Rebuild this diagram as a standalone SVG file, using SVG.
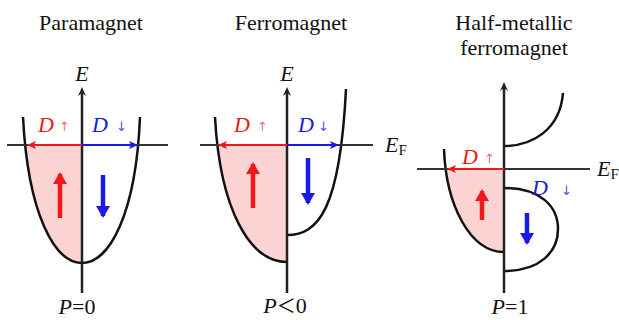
<svg xmlns="http://www.w3.org/2000/svg" width="619" height="320" viewBox="0 0 619 320">
<style>
.title{font-family:"Liberation Serif",serif;font-size:22px;fill:#111;text-anchor:middle}
.lab{font-family:"Liberation Serif",serif;font-size:22px;font-style:italic}
.sm{font-family:"DejaVu Sans",sans-serif;font-size:13px}
.axis{stroke:#222;stroke-width:2.5;fill:none}
.curve{stroke:#111;stroke-width:2.5;fill:none}
.ef{stroke:#333;stroke-width:2;fill:none}
.fill{fill:#fbd3d3}
</style>
<defs>
<marker id="axhead" markerWidth="10" markerHeight="10" refX="5" refY="5" orient="auto" markerUnits="userSpaceOnUse"><path d="M0,1 L9,5 L0,9 L3,5 Z" fill="#222"/></marker>
<marker id="rh" markerWidth="10" markerHeight="10" refX="8" refY="5" orient="auto" markerUnits="userSpaceOnUse"><path d="M0,1 L9,5 L0,9 L2,5 Z" fill="#f01818"/></marker>
<marker id="bh" markerWidth="10" markerHeight="10" refX="8" refY="5" orient="auto" markerUnits="userSpaceOnUse"><path d="M0,1 L9,5 L0,9 L2,5 Z" fill="#1a1ae6"/></marker>
<marker id="rbig" markerWidth="14" markerHeight="14" refX="10" refY="7" orient="auto" markerUnits="userSpaceOnUse"><path d="M0,0 L12,7 L0,14 Z" fill="#f01818"/></marker>
<marker id="bbig" markerWidth="14" markerHeight="14" refX="10" refY="7" orient="auto" markerUnits="userSpaceOnUse"><path d="M0,0 L12,7 L0,14 Z" fill="#1a1ae6"/></marker>
<clipPath id="c1"><path d="M23,117 C28,215 55,263 82,263 C109,263 136,215 140,117 Z"/></clipPath>
<clipPath id="c2"><path d="M215,117 C220,210 250,262 287,262 L287,117 Z"/></clipPath>
<clipPath id="c3"><path d="M444,149 C446,205 470,252 504,252 L504,149 Z"/></clipPath>
</defs>

<g id="paramagnet">
<text class="title" x="91" y="30">Paramagnet</text>
<rect class="fill" x="0" y="145" width="82" height="125" clip-path="url(#c1)"/>
<path class="curve" d="M23,117 C28,215 55,263 82,263 C109,263 136,215 140,117"/>
<text class="lab" x="82" y="81" text-anchor="middle" fill="#111">E</text>
<text class="lab" x="38" y="132" fill="#f01818">D</text>
<text class="sm" x="59" y="131" fill="#f07070">↑</text>
<text class="lab" x="92" y="132" fill="#1a1ae6">D</text>
<text class="sm" x="116" y="131" fill="#5050e0">↓</text>
<text class="lab" x="77" y="314" text-anchor="middle" fill="#111">P<tspan font-style="normal">=0</tspan></text>
</g>

<g id="ferromagnet">
<text class="title" x="291" y="30">Ferromagnet</text>
<rect class="fill" x="200" y="145" width="87" height="125" clip-path="url(#c2)"/>
<path class="curve" d="M215,117 C220,210 250,262 287,262"/>
<path class="curve" d="M287,235 C318,235 340,210 346,89"/>
<text class="lab" x="287" y="81" text-anchor="middle" fill="#111">E</text>
<text class="lab" x="234" y="132" fill="#f01818">D</text>
<text class="sm" x="257" y="131" fill="#f07070">↑</text>
<text class="lab" x="298" y="132" fill="#1a1ae6">D</text>
<text class="sm" x="318" y="131" fill="#5050e0">↓</text>
<text class="lab" x="385" y="152" fill="#111">E<tspan font-style="normal" font-size="15" dy="3">F</tspan></text>
<text class="lab" x="285" y="313" text-anchor="middle" fill="#111">P<tspan font-style="normal" font-family="'Noto Sans CJK SC',sans-serif" font-size="19">＜</tspan><tspan font-style="normal">0</tspan></text>
</g>

<g id="half-metallic">
<text class="title" x="514" y="30">Half-metallic</text>
<text class="title" x="514" y="55">ferromagnet</text>
<rect class="fill" x="417" y="169" width="87" height="90" clip-path="url(#c3)"/>
<path class="curve" d="M444,149 C446,205 470,252 504,252"/>
<path class="curve" d="M504,146 C532,146 560,130 563,93"/>
<path class="curve" d="M504,188 C540,188 558,206 558,229 C558,252 540,271 504,271"/>
<text class="lab" x="462" y="164" fill="#f01818">D</text>
<text class="sm" x="484" y="163" fill="#f07070">↑</text>
<text class="lab" x="532" y="195" fill="#1a1ae6">D</text>
<text class="sm" x="561" y="195" fill="#5050e0">↓</text>
<text class="lab" x="597" y="176" fill="#111">E<tspan font-style="normal" font-size="15" dy="3">F</tspan></text>
<text class="lab" x="510" y="314" text-anchor="middle" fill="#111">P<tspan font-style="normal">=1</tspan></text>
</g>

<g id="connectors">
<line class="axis" x1="82" y1="293" x2="82" y2="91" marker-end="url(#axhead)"/>
<line class="ef" x1="7" y1="145" x2="168" y2="145"/>
<line x1="82" y1="145" x2="28" y2="145" stroke="#f01818" stroke-width="2.2" marker-end="url(#rh)"/>
<line x1="82" y1="145" x2="137" y2="145" stroke="#1a1ae6" stroke-width="2.2" marker-end="url(#bh)"/>
<line x1="60" y1="218" x2="60" y2="174" stroke="#f01818" stroke-width="4.5" marker-end="url(#rbig)"/>
<line x1="103" y1="175" x2="103" y2="216" stroke="#1a1ae6" stroke-width="4.5" marker-end="url(#bbig)"/>

<line class="axis" x1="287" y1="293" x2="287" y2="91" marker-end="url(#axhead)"/>
<line class="ef" x1="200" y1="145" x2="373" y2="145"/>
<line x1="287" y1="145" x2="219" y2="145" stroke="#f01818" stroke-width="2.2" marker-end="url(#rh)"/>
<line x1="287" y1="145" x2="338" y2="145" stroke="#1a1ae6" stroke-width="2.2" marker-end="url(#bh)"/>
<line x1="253" y1="208" x2="253" y2="164" stroke="#f01818" stroke-width="4.5" marker-end="url(#rbig)"/>
<line x1="308" y1="158" x2="308" y2="203" stroke="#1a1ae6" stroke-width="4.5" marker-end="url(#bbig)"/>

<line class="axis" x1="504" y1="293" x2="504" y2="86" marker-end="url(#axhead)"/>
<line class="ef" x1="417" y1="169" x2="590" y2="169"/>
<line x1="504" y1="169" x2="448" y2="169" stroke="#f01818" stroke-width="2.2" marker-end="url(#rh)"/>
<line x1="482" y1="220" x2="482" y2="191" stroke="#f01818" stroke-width="4.5" marker-end="url(#rbig)"/>
<line x1="527" y1="213" x2="527" y2="243" stroke="#1a1ae6" stroke-width="4.5" marker-end="url(#bbig)"/>
</g>
</svg>
